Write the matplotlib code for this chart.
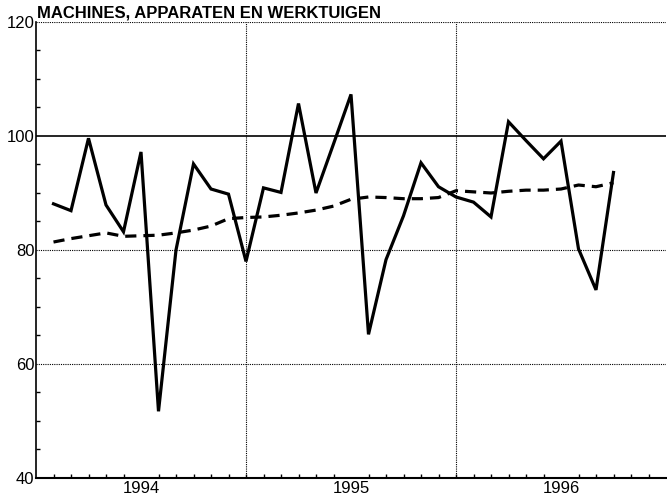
import matplotlib.pyplot as plt
import numpy as np

# monthly index numbers, jan 1994 .. sep 1996 (month 1 = jan 1994)
months = list(range(1, 34))
actual = [88.1, 86.9, 99.6, 87.9, 83.2, 97.2, 51.7, 80.0, 95.1, 90.7, 89.8, 78.0,
          90.9, 90.1, 105.7, 90.0, 98.6, 107.3, 65.2, 78.3, 86.0, 95.3, 91.1, 89.3,
          88.4, 85.8, 102.5, 99.2, 96.0, 99.1, 80.2, 73.0, 93.6]
trend = [81.4, 82.0, 82.5, 83.0, 82.4, 82.5, 82.6, 83.0, 83.5, 84.2, 85.5, 85.7,
         85.8, 86.1, 86.5, 87.0, 87.7, 88.9, 89.3, 89.2, 89.0, 89.0, 89.2, 90.4,
         90.2, 90.0, 90.3, 90.5, 90.5, 90.7, 91.4, 91.1, 91.8]
years = ['1994', '1995', '1996']
title = 'MACHINES, APPARATEN EN WERKTUIGEN'

plt.rcParams['font.family'] = ['Liberation Sans', 'DejaVu Sans']

fig = plt.figure(figsize=(6.67, 4.99), dpi=100)
ax = fig.add_axes([36 / 667, 21 / 499, 630 / 667, 456 / 499])

ax.set_xlim(0, 36)
ax.set_ylim(40, 120)

# grid lines
ax.axhline(100, color='black', linewidth=1.2, zorder=1)
for y in (60, 80, 120):
    ax.axhline(y, color='black', linewidth=0.8, linestyle=(0, (1, 1)), zorder=1)
for x in (12, 24):
    ax.axvline(x, color='black', linewidth=0.8, linestyle=(0, (1, 1)), zorder=1)

ax.plot(months, actual, color='black', linewidth=2.3, solid_joinstyle='miter', zorder=3)
ax.plot(months, trend, color='black', linewidth=2.3, linestyle=(0, (3.5, 2.2)), zorder=2)

for s in ('top', 'right'):
    ax.spines[s].set_visible(False)
ax.spines['left'].set_linewidth(1.2)
ax.spines['bottom'].set_linewidth(1.5)

ax.set_yticks([40, 60, 80, 100, 120])
ax.set_yticks(np.arange(45, 120, 5), minor=True)
ax.tick_params(axis='y', which='major', length=0, pad=1, labelsize=12)
ax.tick_params(axis='y', which='minor', direction='in', length=3, width=1)

ax.set_xticks([6, 18, 30], labels=years)
ax.set_xticks(range(1, 36), minor=True)
ax.tick_params(axis='x', which='major', length=0, pad=2, labelsize=12)
ax.tick_params(axis='x', which='minor', direction='in', length=3, width=1)

fig.text(37 / 667, 1 - 18 / 499, title, fontsize=12, fontweight='bold', ha='left', va='baseline')

fig.savefig('out.png', dpi=100)
